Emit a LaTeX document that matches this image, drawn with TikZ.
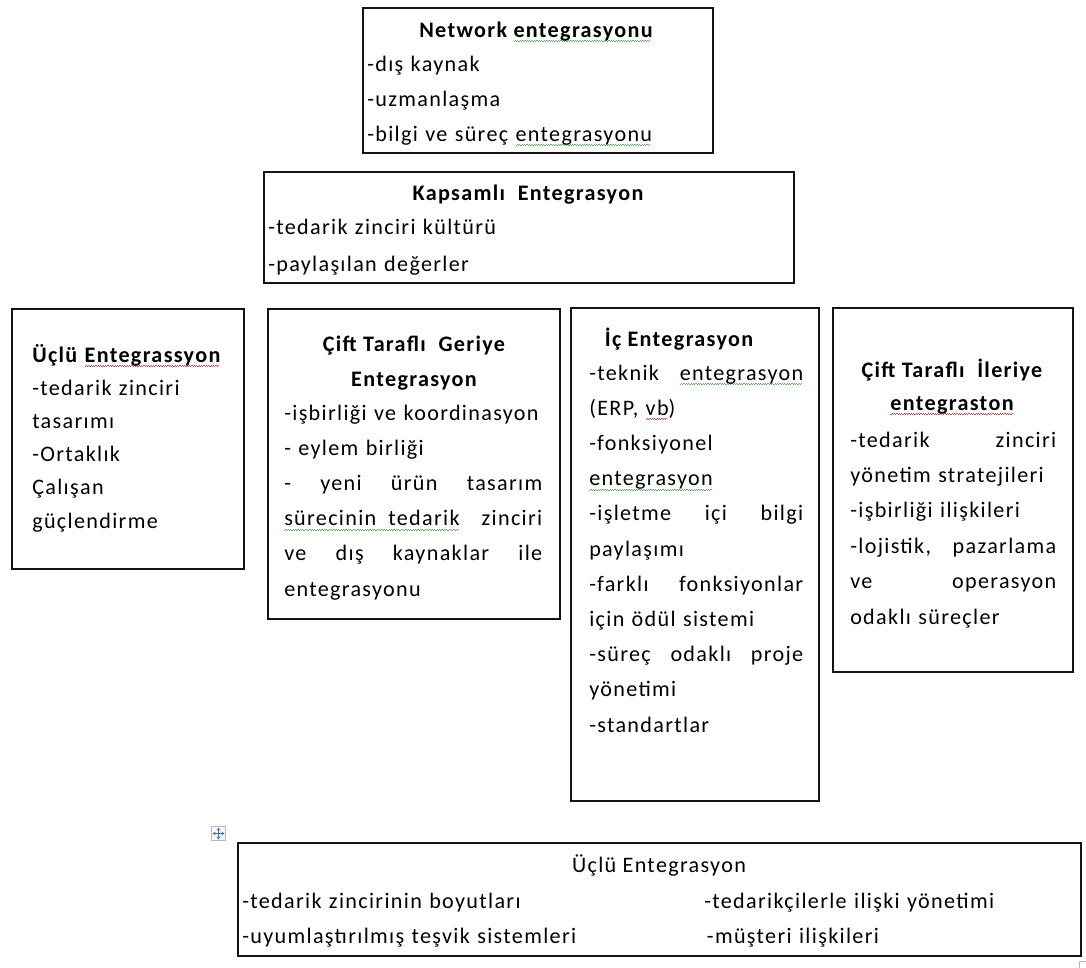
\documentclass[tikz,border=0pt]{standalone}
\usepackage{fontspec}
\setmainfont{Carlito}[LetterSpace=6]
\usetikzlibrary{fit,arrows.meta}

\definecolor{ink}{HTML}{141414}
\definecolor{spellgreen}{HTML}{5DB85C}
\definecolor{spellred}{HTML}{E8403A}
\definecolor{handleblue}{HTML}{3C6FC4}

% wavy proofing underlines drawn under a word
\newsavebox\wavebox
\newcommand\waveunder[2]{\leavevmode\sbox\wavebox{#2}%
  \rlap{\textcolor{#1}{\leaders\hbox{\rule[-3.6pt]{0.9pt}{0.55pt}\rule[-2.9pt]{0.9pt}{0.55pt}}\hskip\wd\wavebox}}%
  \usebox\wavebox}
\newcommand\gw[1]{\waveunder{spellgreen}{#1}}
\newcommand\rw[1]{\waveunder{spellred}{#1}}

\begin{document}
\begin{tikzpicture}[x=0.75pt,y=-0.75pt,
  panel/.style={draw=ink, line width=2.2pt, inner sep=0pt},
  head/.style={anchor=base, inner sep=0pt, align=center, font=\fontsize{16.6}{#1}\selectfont\bfseries},
  plainhead/.style={anchor=base, inner sep=0pt, align=center, font=\fontsize{16.6}{#1}\selectfont},
  body/.style={anchor=base west, inner sep=0pt, align=left, font=\fontsize{16.6}{#1}\selectfont}]
\useasboundingbox (0,0) rectangle (1086,968);

% ---- Network entegrasyonu ----
\node[panel, fit={(363,8) (713,153)}] (net) {};
\node[head=26.25pt] (nettitle) at (536,37) {Network \gw{entegrasyonu}};
\node[body=26.25pt, text width=250pt] (netbody) at (367,71)
  {-dış kaynak\\-uzmanlaşma\\-bilgi ve süreç \gw{entegrasyonu}};

% ---- Kapsamlı Entegrasyon ----
\node[panel, fit={(264,172) (794,283)}] (kap) {};
\node[head=27pt] (kaptitle) at (528,200) {Kapsamlı\ \ Entegrasyon};
\node[body=27.75pt, text width=380pt] (kapbody) at (268,234)
  {-tedarik zinciri kültürü\\-paylaşılan değerler};

% ---- Üçlü Entegrassyon (left) ----
\node[panel, fit={(12,309) (244,569)}] (ucl) {};
\node[body=24.9pt, text width=160pt] (uclbody) at (32,362)
  {\textbf{Üçlü \rw{Entegrassyon}}\\-tedarik zinciri\\tasarımı\\-Ortaklık\\Çalışan\\güçlendirme};

% ---- Çift Taraflı Geriye Entegrasyon ----
\node[panel, fit={(268,309) (560,619)}] (ger) {};
\node[head=26.25pt] (gertitle) at (414,386) {Çift Taraflı\ \ Geriye\\Entegrasyon};
\node[body=26.4pt, text width=193.5pt] (gerbody) at (284,420)
  {-işbirliği ve koordinasyon\\- eylem birliği\\-\hfill yeni\hfill ürün\hfill tasarım\\
   \gw{sürecinin\hspace{9pt}tedarik}\hfill zinciri\\ve\hfill dış\hfill kaynaklar\hfill ile\\entegrasyonu};

% ---- İç Entegrasyon ----
\node[panel, fit={(571,308) (819,801)}] (ic) {};
\node[head=26.4pt] (ictitle) at (679,346) {İç Entegrasyon};
\node[body=26.4pt, text width=160.5pt] (icbody) at (589,380)
  {-teknik\hfill \gw{entegrasyon}\\(ERP, \rw{vb})\\-fonksiyonel\\\gw{entegrasyon}\\
   -işletme\hfill içi\hfill bilgi\\paylaşımı\\-farklı\hfill fonksiyonlar\\için ödül sistemi\\
   -süreç\hfill odaklı\hfill proje\\yönetimi\\-standartlar};

% ---- Çift Taraflı İleriye entegraston ----
\node[panel, fit={(833,308) (1073,672)}] (ile) {};
\node[head=24.75pt] (iletitle) at (952,410) {Çift Taraflı\ \ İleriye\\\rw{entegraston}};
\node[body=26.55pt, text width=154.5pt] (ilebody) at (850,447)
  {-tedarik\hfill zinciri\\yönetim stratejileri\\-işbirliği ilişkileri\\
   -lojistik,\hfill pazarlama\\ve\hfill operasyon\\odaklı süreçler};

% ---- Üçlü Entegrasyon (bottom) ----
\node[panel, fit={(238,843) (1081,956)}] (alt) {};
\node[plainhead=27pt] (alttitle) at (659,872) {Üçlü Entegrasyon};
\node[body=26.5pt, text width=330pt] (altleft) at (242,908)
  {-tedarik zincirinin boyutları\\-uyumlaştırılmış teşvik sistemleri};
\node[body=26.5pt, text width=280pt] (altright) at (704,908)
  {-tedarikçilerle ilişki yönetimi\\\hspace*{2pt}-müşteri ilişkileri};

% table move handle and corner mark
\node[draw=gray!55, fill=gray!6, line width=0.6pt, minimum size=11pt, inner sep=0pt] (handle) at (218.5,833.5) {};
\draw[handleblue, line width=0.7pt, {Stealth[length=2.2pt,width=2.6pt]}-{Stealth[length=2.2pt,width=2.6pt]}]
  ([xshift=-4.5pt]handle.center) -- ([xshift=4.5pt]handle.center);
\draw[handleblue, line width=0.7pt, {Stealth[length=2.2pt,width=2.6pt]}-{Stealth[length=2.2pt,width=2.6pt]}]
  ([yshift=-4.5pt]handle.center) -- ([yshift=4.5pt]handle.center);
\coordinate (cornerA) at (1079,968);
\coordinate (cornerB) at (1079,961);
\coordinate (cornerC) at (1086,961);
\draw[gray!60, line width=0.6pt] (cornerA) -- (cornerB) -- (cornerC);
\end{tikzpicture}
\end{document}
